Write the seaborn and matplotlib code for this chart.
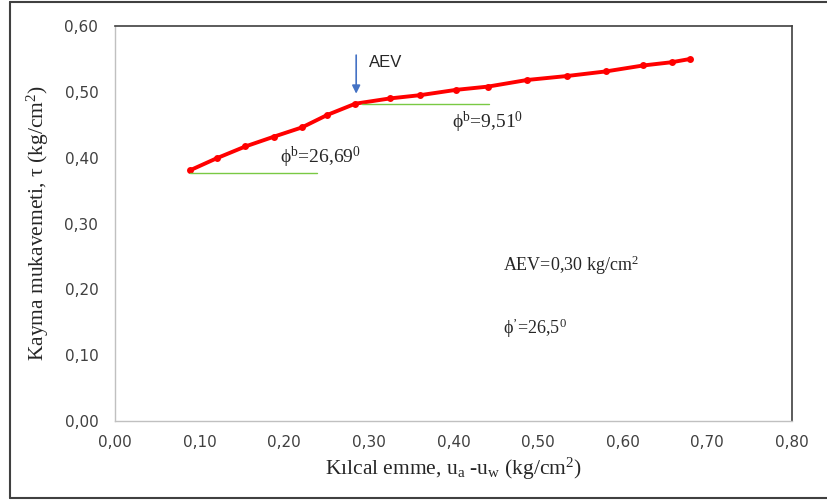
import numpy as np
import pandas as pd
import matplotlib
matplotlib.use("Agg")
import matplotlib.pyplot as plt
import seaborn as sns
from matplotlib.lines import Line2D

### Data
suction = [0.089, 0.120, 0.154, 0.188, 0.221, 0.251, 0.284, 0.325, 0.361,
           0.403, 0.441, 0.487, 0.534, 0.580, 0.624, 0.658, 0.680]
shear = [0.381, 0.399, 0.417, 0.432, 0.446, 0.465, 0.482, 0.490, 0.495,
         0.503, 0.508, 0.518, 0.524, 0.531, 0.540, 0.545, 0.550]

# reference (horizontal) lines for the phi_b angles
ref_low_x = [0.089, 0.239]
ref_low_y = [0.376, 0.376]
ref_high_x = [0.292, 0.442]
ref_high_y = [0.482, 0.482]

x_ticks = [0.0, 0.1, 0.2, 0.3, 0.4, 0.5, 0.6, 0.7, 0.8]
y_ticks = [0.0, 0.1, 0.2, 0.3, 0.4, 0.5, 0.6]

df = pd.DataFrame({"suction": suction, "shear": shear})

sns.set_style("white")
plt.rcParams["font.family"] = ["Liberation Serif", "DejaVu Serif"]
plt.rcParams["mathtext.fontset"] = "custom"
plt.rcParams["mathtext.rm"] = "Liberation Serif"
plt.rcParams["mathtext.it"] = "Liberation Serif:italic"

fig = plt.figure(figsize=(8.28, 5.0), dpi=100)
ax = fig.add_axes([0.1389, 0.158, 0.8176, 0.790])

sns.lineplot(data=df, x="suction", y="shear", ax=ax, color="#ff0000",
             linewidth=2.8, marker="o", markersize=5, markeredgewidth=0)
ax.plot(ref_low_x, ref_low_y, color="#7ac943", linewidth=1)
ax.plot(ref_high_x, ref_high_y, color="#7ac943", linewidth=1)

# AEV arrow
ax.annotate("", xy=(0.285, 0.493), xytext=(0.285, 0.560),
            arrowprops=dict(arrowstyle="-|>", color="#4472c4", lw=1.2,
                            mutation_scale=12))
ax.text(0.300, 0.544, "AEV", fontsize=12, va="center", ha="left",
        family=["Liberation Sans", "DejaVu Sans"])

ax.text(0.195, 0.401, r"ϕ$^{\mathrm{b}}$=26,69$^{\mathrm{0}}$", fontsize=14, va="center")
ax.text(0.398, 0.453, r"ϕ$^{\mathrm{b}}$=9,51$^{\mathrm{0}}$", fontsize=14, va="center")
ax.text(0.459, 0.237, r"AEV=0,30 kg/cm$^{\mathrm{2}}$", fontsize=13, va="center")
ax.text(0.459, 0.141, r"ϕ$^{\mathrm{’}}$=26,5$^{\mathrm{0}}$", fontsize=13, va="center")

ax.set_xlim(0, 0.8)
ax.set_ylim(0, 0.6)
ax.set_xticks(x_ticks)
ax.set_yticks(y_ticks)
ax.set_xticklabels([f"{v:.2f}".replace(".", ",") for v in x_ticks],
                   family=["DejaVu Sans"], fontsize=11, color="#404040")
ax.set_yticklabels([f"{v:.2f}".replace(".", ",") for v in y_ticks],
                   family=["DejaVu Sans"], fontsize=11, color="#404040")
ax.tick_params(axis="x", length=0, pad=10)
ax.tick_params(axis="y", length=0, pad=12)

ax.set_xlabel(r"Kılcal emme, u$_{\mathrm{a}}$ -u$_{\mathrm{w}}$ (kg/cm$^{\mathrm{2}}$)",
              fontsize=15.5, labelpad=4)
ax.set_ylabel(r"Kayma mukavemeti, τ (kg/cm$^{\mathrm{2}}$)", fontsize=15.5, labelpad=10)

for side in ["left", "bottom"]:
    ax.spines[side].set_color("#c0c0c0")
    ax.spines[side].set_linewidth(1.0)
for side in ["top", "right"]:
    ax.spines[side].set_color("#404040")
    ax.spines[side].set_linewidth(1.2)

# outer chart border
fig.add_artist(Line2D([10 / 828, 10 / 828], [0.004, 0.997], color="#404040", lw=1.5))
fig.add_artist(Line2D([10 / 828, 1.0], [0.997, 0.997], color="#404040", lw=1.5))
fig.add_artist(Line2D([10 / 828, 1.0], [0.004, 0.004], color="#404040", lw=1.5))

fig.savefig("out.png", dpi=100)
